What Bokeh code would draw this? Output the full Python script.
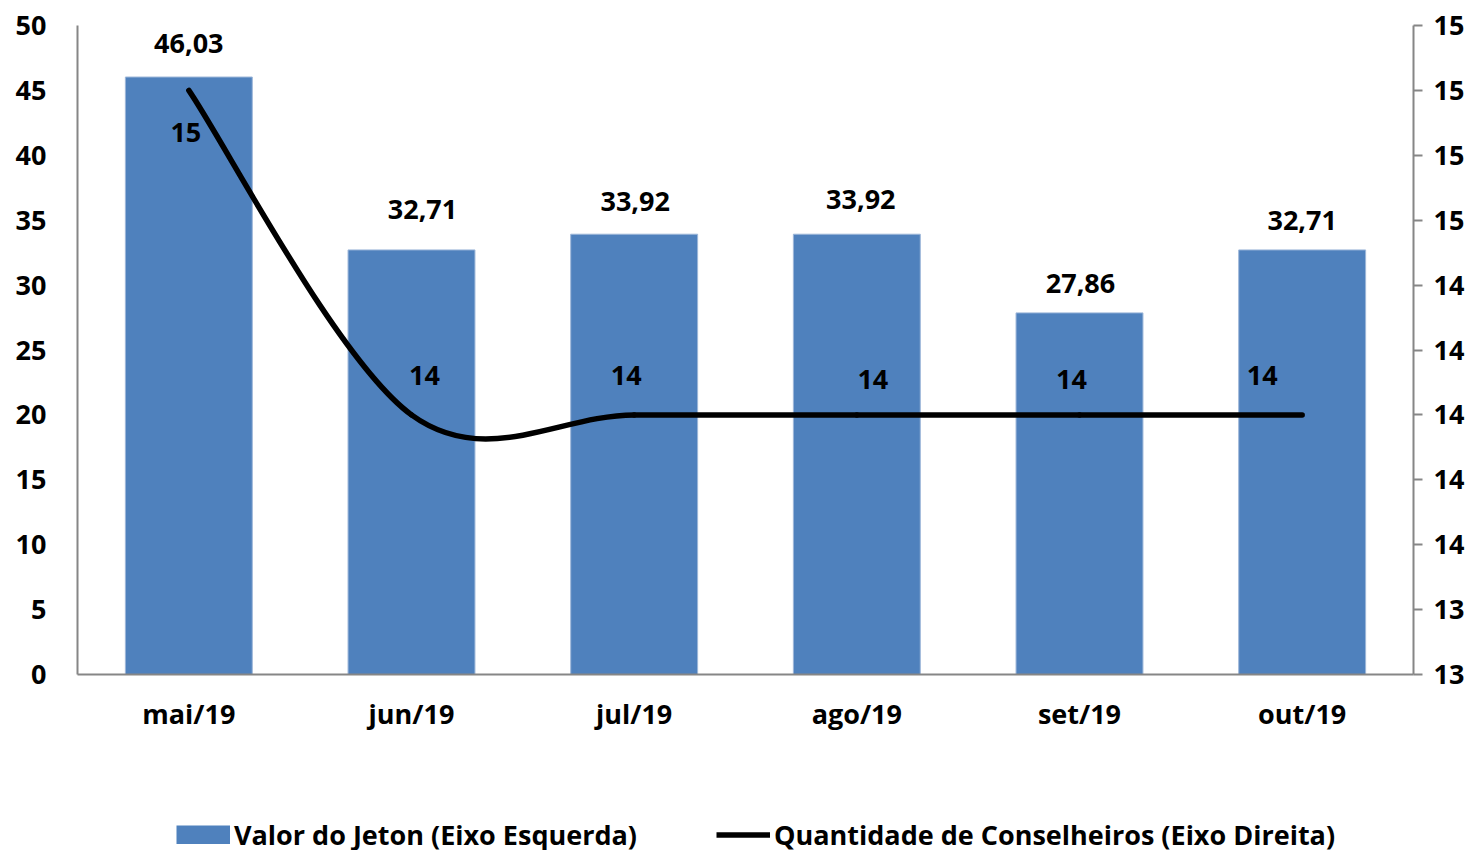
from bokeh.plotting import figure
from bokeh.layouts import column
from bokeh.models import (Range1d, FactorRange, LinearAxis, FixedTicker, PrintfTickFormatter,
                          Legend, LegendItem, ColumnDataSource)
from bokeh.core.properties import value
from bokeh.embed import file_html
from bokeh.resources import INLINE

# ---- data ----
categories = ["mai/19", "jun/19", "jul/19", "ago/19", "set/19", "out/19"]
valor_jeton = [46.03, 32.71, 33.92, 33.92, 27.86, 32.71]
valor_labels = ["46,03", "32,71", "33,92", "33,92", "27,86", "32,71"]
conselheiros = [15, 14, 14, 14, 14, 14]
conselheiros_labels = ["15", "14", "14", "14", "14", "14"]
series_names = ["Valor do Jeton (Eixo Esquerda)", "Quantidade de Conselheiros (Eixo Direita)"]

left_ticks = [0, 5, 10, 15, 20, 25, 30, 35, 40, 45, 50]
right_min, right_max, right_step = 13.2, 15.2, 0.2

# ---- style ----
FONT = "Open Sans"
FS = "27px"
BLUE = "#4F81BD"
AXIS = "#868686"
bar_lbl_dx = [0, 11, 1, 4, 1, 0]
bar_lbl_dy = [-34, -40, -33, -35, -29, -29]
line_lbl_dx = [-3, 13, -8, 16, -8, -40]
line_lbl_dy = [42, -39, -39, -35, -35, -39]
W = 1462

p = figure(output_backend="svg", toolbar_location=None,
           frame_width=1336, frame_height=649,
           x_range=FactorRange(factors=categories, range_padding=0),
           y_range=Range1d(0, 50),
           min_border_left=77, min_border_right=49, min_border_top=25, min_border_bottom=111)
p.grid.visible = False
p.outline_line_color = None
p.background_fill_color = "white"
p.border_fill_color = "white"

# bars
src = ColumnDataSource(dict(x=categories, top=valor_jeton, lbl=valor_labels,
                            dx=bar_lbl_dx, dy=bar_lbl_dy))
bars = p.vbar(x="x", top="top", width=0.57, source=src, fill_color=BLUE,
              line_color="#9DB7D9", line_width=1)

# right axis
p.extra_y_ranges = {"right": Range1d(right_min, right_max)}
n_right = int(round((right_max - right_min) / right_step))
right_ticks = [round(right_min + right_step * k, 4) for k in range(n_right + 1)]
raxis = LinearAxis(y_range_name="right", ticker=FixedTicker(ticks=right_ticks),
                   formatter=PrintfTickFormatter(format="%.0f"))
p.add_layout(raxis, "right")

# smoothed line (cubic Bezier through the data points, Excel-style)
xs = [i + 0.5 for i in range(len(categories))]
n = len(xs)
b = dict(x0=[], y0=[], x1=[], y1=[], cx0=[], cy0=[], cx1=[], cy1=[])
for i in range(n - 1):
    i0, i3 = max(i - 1, 0), min(i + 2, n - 1)
    b["x0"].append(xs[i]); b["y0"].append(conselheiros[i])
    b["x1"].append(xs[i + 1]); b["y1"].append(conselheiros[i + 1])
    b["cx0"].append(xs[i] + (xs[i + 1] - xs[i0]) / 6)
    b["cy0"].append(conselheiros[i] + (conselheiros[i + 1] - conselheiros[i0]) / 6)
    b["cx1"].append(xs[i + 1] - (xs[i3] - xs[i]) / 6)
    b["cy1"].append(conselheiros[i + 1] - (conselheiros[i3] - conselheiros[i]) / 6)
curve = p.bezier(source=ColumnDataSource(b), x0="x0", y0="y0", x1="x1", y1="y1",
                 cx0="cx0", cy0="cy0", cx1="cx1", cy1="cy1",
                 line_color="black", line_width=5.5, line_cap="round",
                 y_range_name="right")

# labels
p.text(x="x", y="top", text="lbl", x_offset="dx", y_offset="dy", source=src,
       text_align="center", text_baseline="middle", text_font=value(FONT),
       text_font_style="bold", text_font_size=value(FS), text_color="black")
lsrc = ColumnDataSource(dict(x=categories, y=conselheiros, lbl=conselheiros_labels,
                             dx=line_lbl_dx, dy=line_lbl_dy))
p.text(x="x", y="y", text="lbl", x_offset="dx", y_offset="dy", source=lsrc,
       y_range_name="right",
       text_align="center", text_baseline="middle", text_font=value(FONT),
       text_font_style="bold", text_font_size=value(FS), text_color="black")

# axes styling
p.yaxis[0].ticker = FixedTicker(ticks=left_ticks)
for ax in [p.xaxis[0], p.yaxis[0], raxis]:
    ax.axis_line_color = AXIS
    ax.axis_line_width = 2
    ax.major_label_text_font = FONT
    ax.major_label_text_font_style = "bold"
    ax.major_label_text_font_size = FS
    ax.major_label_text_color = "black"
    ax.minor_tick_line_color = None
p.yaxis[0].major_tick_line_color = None
p.yaxis[0].major_label_standoff = 25
p.xaxis[0].major_tick_line_color = None
p.xaxis[0].major_label_standoff = 14
raxis.major_tick_line_color = AXIS
raxis.major_tick_line_width = 2
raxis.major_tick_out = 9
raxis.major_tick_in = 0
raxis.major_label_standoff = 11

# ---- legend strip (separate figure below the chart; its frame aligns with the chart's) ----
LH = 65
lg = figure(width=W, height=LH, output_backend="svg", toolbar_location=None,
            x_range=Range1d(0, 1), y_range=Range1d(0, 1),
            x_axis_location=None, y_axis_location=None,
            min_border_left=0, min_border_right=0, min_border_top=0, min_border_bottom=0)
lg.grid.visible = False
lg.outline_line_color = None
lg.background_fill_color = "white"
lg.border_fill_color = "white"
# swatch renderers: their sample sits outside the visible range, only the legend shows them
sw_bar = lg.line(x=[-5, -4], y=[-3, -3], line_color=BLUE, line_width=19, line_cap="butt")
sw_line = lg.line(x=[-5, -4], y=[-3, -3], line_color="black", line_width=5.5)
legend = Legend(items=[LegendItem(label=series_names[0], renderers=[sw_bar]),
                       LegendItem(label=series_names[1], renderers=[sw_line])],
                orientation="horizontal", location=(99, -3),
                label_text_font=FONT, label_text_font_style="bold", label_text_font_size=FS,
                label_text_color="black",
                glyph_width=54, glyph_height=19, spacing=79, label_standoff=4,
                padding=0, margin=0, border_line_color=None, background_fill_alpha=0)
lg.add_layout(legend, "center")

layout = column(p, lg, spacing=0)
open("out.html", "w").write(file_html(layout, INLINE))
